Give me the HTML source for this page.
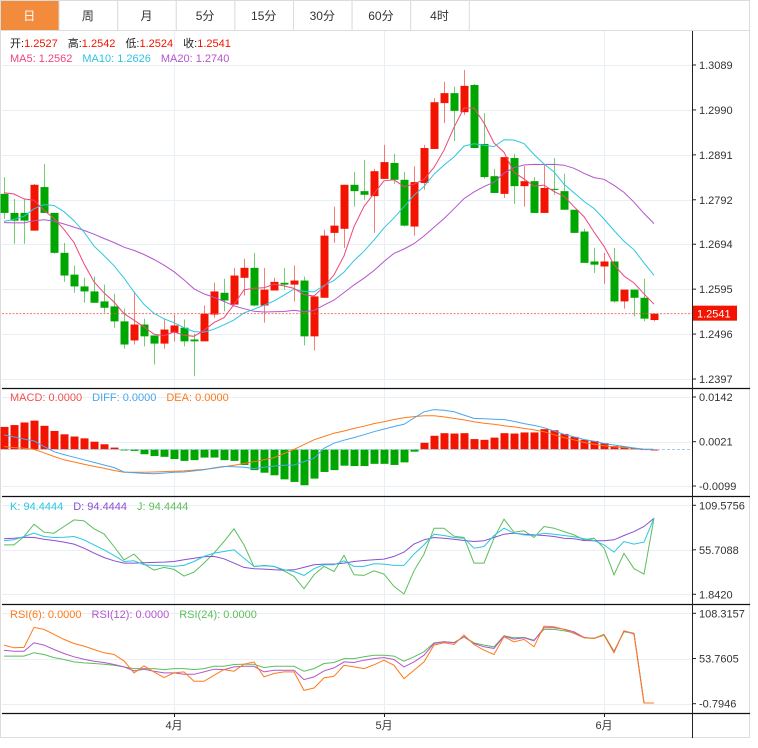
<!DOCTYPE html>
<html><head><meta charset="utf-8"><style>
body{margin:0;background:#fff;width:758px;height:743px;overflow:hidden;font-family:"Liberation Sans","Noto Sans CJK SC",sans-serif}
svg text{font-family:"Liberation Sans","Noto Sans CJK SC",sans-serif}
</style></head><body>
<svg id="c" width="758" height="743" xmlns="http://www.w3.org/2000/svg"></svg>
<script>
const priorCloses=[1.2760,1.2745,1.2730,1.2720,1.2735,1.2750,1.2740,1.2735,1.2730,1.2745,1.2700,1.2680,1.2660,1.2670,1.2695,1.2760,1.2800,1.2840,1.2875];
const opens=[1.2805,1.2763,1.2763,1.2724,1.2820,1.2763,1.2675,1.2627,1.2601,1.2590,1.2568,1.2557,1.2524,1.2482,1.2517,1.2493,1.2475,1.2499,1.2510,1.2484,1.2480,1.2539,1.2587,1.2561,1.2620,1.2642,1.2559,1.2592,1.2609,1.2605,1.2614,1.2491,1.2576,1.2719,1.2728,1.2825,1.2811,1.2800,1.2838,1.2873,1.2836,1.2733,1.2829,1.2904,1.3005,1.3027,1.2985,1.3045,1.2915,1.2844,1.2805,1.2884,1.2822,1.2833,1.2763,1.2816,1.2811,1.2770,1.2722,1.2656,1.2645,1.2656,1.2568,1.2594,1.2576,1.2527];
const highs=[1.2842,1.2794,1.2794,1.2827,1.2871,1.2763,1.2697,1.2647,1.2620,1.2623,1.2605,1.2585,1.2552,1.2590,1.2530,1.2493,1.2530,1.2539,1.2528,1.2497,1.2559,1.2609,1.2618,1.2642,1.2662,1.2675,1.2642,1.2620,1.2642,1.2647,1.2623,1.2579,1.2726,1.2777,1.2825,1.2853,1.2880,1.2860,1.2913,1.2893,1.2853,1.2866,1.2913,1.3016,1.3052,1.3041,1.3078,1.3047,1.2983,1.2860,1.2886,1.2893,1.2866,1.2842,1.2869,1.2884,1.2849,1.2770,1.2728,1.2686,1.2675,1.2686,1.2594,1.2594,1.2618,1.2542];
const lows=[1.2750,1.2695,1.2695,1.2724,1.2763,1.2673,1.2611,1.2587,1.2565,1.2565,1.2543,1.2510,1.2464,1.2473,1.2469,1.2429,1.2464,1.2480,1.2469,1.2403,1.2480,1.2532,1.2546,1.2561,1.2581,1.2557,1.2521,1.2592,1.2594,1.2568,1.2471,1.2460,1.2576,1.2697,1.2686,1.2777,1.2792,1.2719,1.2838,1.2827,1.2733,1.2713,1.2814,1.2904,1.2961,1.2921,1.2979,1.2906,1.2838,1.2807,1.2796,1.2783,1.2777,1.2763,1.2763,1.2803,1.2770,1.2719,1.2653,1.2631,1.2607,1.2565,1.2552,1.2535,1.2524,1.2524];
const closes=[1.2763,1.2746,1.2746,1.2825,1.2763,1.2675,1.2625,1.2601,1.2590,1.2565,1.2554,1.2524,1.2473,1.2517,1.2491,1.2475,1.2506,1.2515,1.2480,1.2480,1.2541,1.2590,1.2570,1.2625,1.2642,1.2559,1.2594,1.2611,1.2605,1.2614,1.2491,1.2579,1.2713,1.2735,1.2825,1.2811,1.2803,1.2855,1.2875,1.2836,1.2735,1.2831,1.2906,1.3007,1.3027,1.2988,1.3043,1.2906,1.2842,1.2807,1.2886,1.2822,1.2833,1.2763,1.2818,1.2814,1.2770,1.2719,1.2653,1.2649,1.2656,1.2568,1.2594,1.2576,1.2530,1.2541];
const priceTicks=[1.3089,1.2990,1.2891,1.2792,1.2694,1.2595,1.2496,1.2397];
const macdHist=[0.0061,0.0066,0.0073,0.0078,0.0064,0.0050,0.0041,0.0035,0.0030,0.0021,0.0014,0.0005,-0.0002,-0.0004,-0.0013,-0.0018,-0.0020,-0.0026,-0.0031,-0.0029,-0.0022,-0.0022,-0.0029,-0.0031,-0.0042,-0.0056,-0.0063,-0.0070,-0.0081,-0.0088,-0.0097,-0.0079,-0.0061,-0.0056,-0.0044,-0.0045,-0.0045,-0.0039,-0.0039,-0.0042,-0.0035,-0.0006,0.0018,0.0037,0.0044,0.0043,0.0044,0.0028,0.0026,0.0032,0.0044,0.0043,0.0046,0.0046,0.0055,0.0052,0.0042,0.0034,0.0026,0.0023,0.0017,0.0009,0.0008,0.0004,0.0001,0.0000];
const difLine=[0.0039,0.0034,0.0028,0.0023,0.0008,-0.0006,-0.0014,-0.0021,-0.0028,-0.0035,-0.0042,-0.0049,-0.0061,-0.0063,-0.0065,-0.0066,-0.0064,-0.0062,-0.0061,-0.0058,-0.0055,-0.0050,-0.0046,-0.0047,-0.0048,-0.0052,-0.0048,-0.0045,-0.0043,-0.0042,-0.0033,-0.0024,0.0003,0.0017,0.0025,0.0032,0.0040,0.0048,0.0055,0.0062,0.0068,0.0085,0.0102,0.0108,0.0106,0.0102,0.0093,0.0084,0.0083,0.0082,0.0081,0.0076,0.0070,0.0065,0.0059,0.0050,0.0041,0.0034,0.0027,0.0022,0.0016,0.0012,0.0008,0.0004,0.0000,0.0000];
const deaLine=[0.0008,0.0005,0.0003,0.0000,-0.0009,-0.0019,-0.0028,-0.0034,-0.0040,-0.0046,-0.0051,-0.0057,-0.0062,-0.0062,-0.0062,-0.0061,-0.0060,-0.0059,-0.0058,-0.0056,-0.0054,-0.0051,-0.0047,-0.0043,-0.0038,-0.0033,-0.0028,-0.0022,-0.0011,0.0000,0.0013,0.0026,0.0035,0.0044,0.0050,0.0057,0.0063,0.0070,0.0075,0.0081,0.0086,0.0089,0.0091,0.0091,0.0088,0.0084,0.0080,0.0075,0.0071,0.0068,0.0064,0.0061,0.0057,0.0053,0.0048,0.0040,0.0032,0.0026,0.0019,0.0014,0.0010,0.0007,0.0005,0.0003,0.0001,0.0000];
const macdTicks=[0.0142,0.0021,-0.0099];
const kLine=[66.6,67.8,71.8,75.8,71.8,70.6,71.0,71.8,67.8,61.7,55.7,48.9,41.6,42.4,37.6,36.8,36.4,35.6,36.8,41.6,47.7,51.7,53.7,55.7,45.6,35.6,36.4,35.6,31.5,29.5,24.7,32.8,37.6,37.6,42.4,35.6,35.6,38.8,38.4,36.8,36.8,50.5,61.7,74.6,73.0,70.6,69.8,57.7,59.7,73.0,81.9,75.8,73.8,73.0,75.8,74.6,73.0,71.4,69.0,67.0,61.7,52.9,65.8,62.6,65.0,93.9];
const dLine=[69.0,69.8,71.0,70.6,68.6,67.0,65.0,62.6,57.7,51.7,46.4,42.4,39.6,39.6,40.0,40.4,40.8,41.6,43.6,45.6,47.2,47.7,44.8,39.6,34.4,32.8,32.4,31.5,31.1,31.5,34.4,37.6,38.4,38.4,39.6,41.6,42.8,43.6,44.4,47.7,52.9,62.6,67.8,70.6,69.8,68.6,67.0,65.8,66.6,70.6,74.6,75.8,74.6,73.8,73.0,71.8,69.8,69.0,67.0,66.6,66.6,67.8,73.0,77.8,83.9,93.9];
const jLine=[61.7,61.7,71.8,86.7,77.0,75.8,83.9,91.9,90.7,81.1,75.0,59.7,43.6,50.5,38.4,31.1,34.4,31.95,23.9,28.7,39.6,51.7,65.8,81.1,61.7,35.2,36.8,35.6,30.3,23.5,8.6,25.5,35.6,29.5,48.9,25.5,24.7,30.3,26.3,11.4,2.2,30.3,50.5,81.9,81.9,72.2,70.6,39.6,39.6,69.8,92.7,77.0,78.65,70.6,83.9,81.9,77.8,73.8,67.8,69.8,57.7,25.5,51.3,32.8,26.3,93.9];
const kdjTicks=[109.5756,55.7088,1.8420];
const rsi6=[69.9,66.7,67.1,91.3,88.9,82.8,76.8,71.9,68.7,64.6,60.6,58.6,50.9,36.4,44.8,37.6,30.7,36.4,37.6,26.3,26.3,33.5,40.4,38.4,46.9,49.7,31.5,35.6,37.6,37.6,15.3,18.2,30.3,32.3,45.6,43.6,41.6,46.1,51.7,45.6,29.5,39.6,49.7,69.9,72.7,70.7,82.0,70.7,63.8,58.6,80.0,73.9,76.8,67.9,92.9,92.1,88.9,84.0,78.8,78.0,82.0,60.6,87.3,83.2,0,0];
const rsi12=[63.8,62.6,62.6,72.7,69.9,64.6,59.8,55.8,52.9,50.5,48.9,46.5,43.6,38.8,40.8,38.4,36.4,36.4,34.7,34.7,37.6,40.8,40.4,43.6,44.4,44.4,37.6,39.6,39.6,39.6,28.3,31.5,38.8,42.4,49.7,48.9,51.7,53.7,54.9,52.5,43.6,49.7,57.8,71.9,73.9,72.7,80.0,71.9,67.9,65.9,80.8,77.2,78.8,75.1,90.9,90.9,89.3,86.0,79.2,78.0,82.0,61.8,86.9,84.0,0,0];
const rsi24=[56.6,56.6,56.6,60.6,58.6,54.9,52.5,49.7,48.5,47.7,46.9,45.6,43.6,41.6,41.6,41.6,40.4,41.6,41.6,40.4,41.6,44.4,44.4,46.5,46.9,46.9,42.8,44.4,44.4,44.4,38.4,41.6,47.7,48.9,53.7,53.7,55.8,57.8,57.8,56.6,50.5,55.8,61.8,72.7,73.9,73.1,80.0,72.7,69.9,67.9,81.2,78.8,79.2,75.9,88.9,88.9,87.3,84.8,78.8,78.0,82.8,62.6,86.0,84.0,0,0];
const rsiTicks=[108.3157,53.7605,-0.7946];
const months=[{i:17,t:"4月"},{i:38,t:"5月"},{i:60,t:"6月"}];
const tabs=["日","周","月","5分","15分","30分","60分","4时"];

const NS="http://www.w3.org/2000/svg",svg=document.getElementById('c');
const UP="#f21400",DN="#00a600";
function el(tag,attrs,parent){const e=document.createElementNS(NS,tag);for(const k in attrs)e.setAttribute(k,attrs[k]);(parent||svg).appendChild(e);return e;}
function txt(x,y,s,fill,size,anchor){const t=el('text',{x:x,y:y,fill:fill,'font-size':size||11,'text-anchor':anchor||'start'});t.textContent=s;return t;}
const X=i=>4+10*i;
function lin(v0,y0,v1,y1){return v=>y0+(v-v0)*(y1-y0)/(v1-v0);}
const yP=lin(1.3089,65,1.2397,379);
const yM=lin(0.0142,397,-0.0099,486);
const yK=lin(109.5756,505.3,1.842,594.3);
const yR=lin(108.3157,613.3,-0.7946,703.7);

tabs.forEach((t,i)=>{const x=i*58.6;
 const r=el('rect',{x:x+0.5,y:0.5,width:58.6,height:30,fill:i==0?'#f28b3c':'#fff',stroke:'#dcdcdc'});
 
 const tt=txt(x+29.3,20,t,i==0?'#fff':'#333',12,'middle');
 });
el('line',{x1:469,y1:30.5,x2:750,y2:30.5,stroke:'#dcdcdc'});
el('rect',{x:0.5,y:0.5,width:749,height:737,fill:'none',stroke:'#dcdcdc'});

const g=el('g',{stroke:'#e8f0f6','stroke-width':1});

priceTicks.forEach(v=>el('line',{x1:2,x2:692,y1:Math.round(yP(v))+0.5,y2:Math.round(yP(v))+0.5},g));
macdTicks.forEach(v=>el('line',{x1:2,x2:692,y1:Math.round(yM(v))+0.5,y2:Math.round(yM(v))+0.5},g));
kdjTicks.forEach(v=>el('line',{x1:2,x2:692,y1:Math.round(yK(v))+0.5,y2:Math.round(yK(v))+0.5},g));
rsiTicks.forEach(v=>el('line',{x1:2,x2:692,y1:Math.round(yR(v))+0.5,y2:Math.round(yR(v))+0.5},g));
months.forEach(m=>el('line',{x1:X(m.i)+0.5,x2:X(m.i)+0.5,y1:31,y2:713},g));

[388,496,604,713].forEach(y=>el('line',{x1:2,x2:750,y1:y+0.5,y2:y+0.5,stroke:'#111','stroke-width':1.2}));
el('line',{x1:692.5,x2:692.5,y1:31,y2:738,stroke:'#222'});

function axis(ticks,f,fmt){ticks.forEach(v=>{const y=f(v);el('line',{x1:692,x2:696,y1:y,y2:y,stroke:'#222'});
 const t=txt(699,y+4,fmt(v),'#333',11);});}
axis(priceTicks,yP,v=>v.toFixed(4));axis(macdTicks,yM,v=>v.toFixed(4));axis(kdjTicks,yK,v=>v.toFixed(4));axis(rsiTicks,yR,v=>v.toFixed(4));
months.forEach(m=>{el('line',{x1:X(m.i)+0.5,x2:X(m.i)+0.5,y1:713,y2:717,stroke:'#222'});
 const t=txt(X(m.i),729,m.t,'#333',11,'middle');});

const cg=el('g',{});
closes.forEach((c,i)=>{const o=opens[i],col=c>=o?UP:DN,x=X(i);
 const w=el('line',{x1:x+0.5,x2:x+0.5,y1:yP(highs[i]),y2:yP(lows[i]),stroke:col,'stroke-opacity':0.55},cg);
 
 const t=Math.min(yP(o),yP(c)),h=Math.max(1,Math.abs(yP(o)-yP(c)));
 const b=el('rect',{x:x-3.5,y:t,width:8,height:h,fill:col},cg);
 });

const all=priorCloses.concat(closes),P=priorCloses.length;
function ma(n){return closes.map((c,i)=>{let s=0;for(let k=0;k<n;k++)s+=all[P+i-k];return s/n;});}
function line(vals,f,color,name,w){const d=vals.map((v,i)=>(i?'L':'M')+X(i)+' '+f(v).toFixed(1)).join('');
 const p=el('path',{d:d,fill:'none',stroke:color,'stroke-width':w||1});return p;}
line(ma(20),yP,'#b455cc','ma20-line');line(ma(10),yP,'#2cc6e0','ma10-line');line(ma(5),yP,'#f0457a','ma5-line');

const last=closes[closes.length-1],yl=yP(last);
const cl=el('line',{x1:2,x2:692,y1:yl,y2:yl,stroke:'#f25050','stroke-dasharray':'2,1.5','stroke-opacity':0.8});

const cb=el('rect',{x:693,y:yl-8,width:44,height:15,fill:'#f21400'});
txt(697,yl+4,last.toFixed(4),'#fff',11);

const zy=yM(0);
macdHist.forEach((v,i)=>{const y=yM(v);const r=el('rect',{x:X(i)-3.5,y:Math.min(y,zy),width:8,height:Math.max(1,Math.abs(zy-y)),fill:v>=0?UP:DN});
 });
el('line',{x1:2,x2:692,y1:zy,y2:zy,stroke:'#9fd0ea','stroke-dasharray':'3,2'});
line(deaLine,yM,'#ff7a1a','dea-line');line(difLine,yM,'#4aa6ee','dif-line');

line(jLine,yK,'#5cbf5c','kdj-j-line');line(dLine,yK,'#8a4fd0','kdj-d-line');line(kLine,yK,'#2cc6e0','kdj-k-line');
line(rsi24,yR,'#5cbf5c','rsi24-line');line(rsi12,yR,'#b455cc','rsi12-line');line(rsi6,yR,'#ff7a1a','rsi6-line');

// legends: parts = [text, color, gapBefore]
function legend(x,y,parts,name){const t=el('text',{x:x,y:y,'font-size':11});
 parts.forEach(p=>{const s=el('tspan',{fill:p[1],dx:p[2]||0},t);s.textContent=p[0];});}
legend(10,47,[["开:","#222"],["1.2527","#f21400"],["高:","#222",10],["1.2542","#f21400"],["低:","#222",10],["1.2524","#f21400"],["收:","#222",10],["1.2541","#f21400"]],'ohlc-legend');
legend(10,62,[["MA5: 1.2562","#f0457a"],["MA10: 1.2626","#2cc6e0",10],["MA20: 1.2740","#b455cc",10]],'ma-legend');
legend(10,401,[["MACD: 0.0000","#f25050"],["DIFF: 0.0000","#4aa6ee",10],["DEA: 0.0000","#ff7a1a",10]],'macd-legend');
legend(10,510,[["K: 94.4444","#2cc6e0"],["D: 94.4444","#8a4fd0",10],["J: 94.4444","#5cbf5c",10]],'kdj-legend');
legend(10,618,[["RSI(6): 0.0000","#ff7a1a"],["RSI(12): 0.0000","#b455cc",10],["RSI(24): 0.0000","#5cbf5c",10]],'rsi-legend');
</script>
</body></html>
